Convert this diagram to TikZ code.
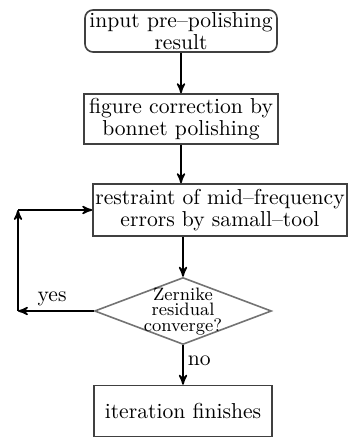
\documentclass[tikz,border=0pt]{standalone}
\usepackage{tikz}
\usetikzlibrary{positioning, arrows, shapes.geometric}
\tikzset{
	>=stealth', % bold arrow heads
	every node/.style={font=\fontsize{10.8}{11}\selectfont, align=center, inner sep=0pt},
	block/.style={draw=black!75, thick, minimum width=97pt, minimum height=25pt}, % plain process box
	startblock/.style={block, rounded corners=4pt, minimum height=21pt, minimum width=96pt},
	decision/.style={diamond, draw=black!55, thick, aspect=2.64, inner sep=0pt,
		minimum width=88.5pt, minimum height=33.5pt, font=\fontsize{9}{7.8}\selectfont},
	flow/.style={->, thick},
}

\begin{document}
\begin{tikzpicture}
		\useasboundingbox (0,0) rectangle (177.5pt,-219.5pt);

		\node[startblock] (n1) at (90.5pt,-15.5pt) {input pre--polishing\\result};
		\node[block,below of=n1,node distance=44pt] (n2) {figure correction by\\bonnet polishing};
		\node[block,below of=n2,node distance=45.5pt,xshift=19.5pt,minimum width=127pt,minimum height=26pt] (n3) {restraint of mid--frequency\\errors by samall--tool};
		% text is smashed so the diamond keeps its own size
		\node[decision,below of=n3,node distance=50.5pt,xshift=-18.5pt] (n4) {\makebox[0pt]{\smash{\raisebox{-2.5pt}{\parbox{44pt}{\centering Zernike\\residual\\converge?}}}}};
		\node[block,below of=n4,node distance=50pt,minimum width=89pt,minimum height=25.5pt] (n5) {iteration finishes};

		\coordinate (c1) at (9pt,0 |- n4);
		\coordinate (c2) at (9pt,0 |- n3);

		\draw[flow] (n1) -- (n2);
		\draw[flow] (n2.south) -- (n2.south |- n3.north);
		\draw[flow] (n4.north |- n3.south) -- (n4);
		\draw[flow] (n4) -- node[right=2pt,pos=0.4]{no} (n5);
		\draw[flow] (n4) -- node[above=2pt,pos=0.55]{yes} (c1);
		\draw[flow] (c1) -- (c2);
		\draw[flow] (c2) -- (n3);

	\end{tikzpicture}
\end{document}
